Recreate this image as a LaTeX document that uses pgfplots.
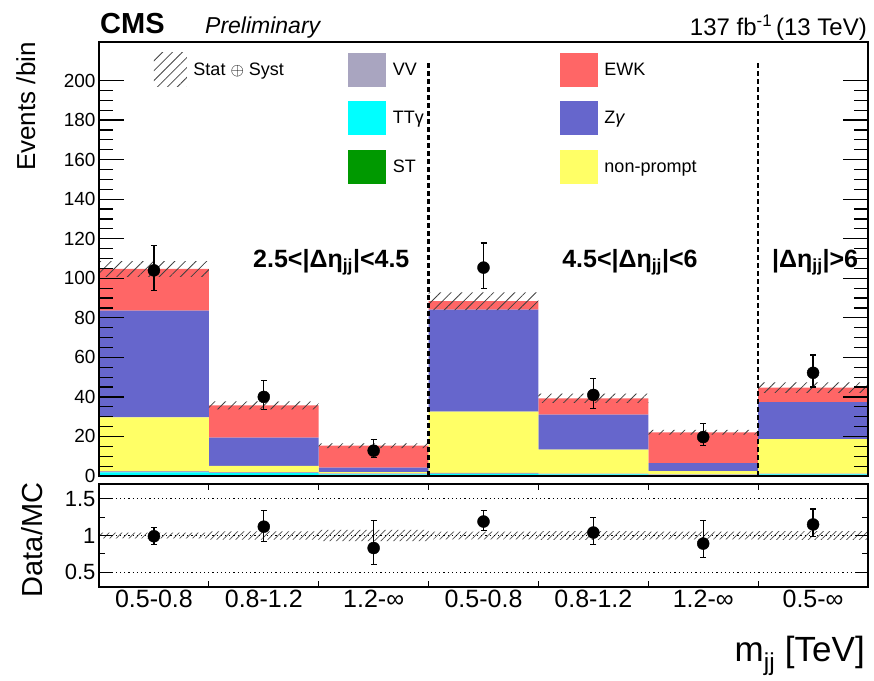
\documentclass[border=0pt]{standalone}
\usepackage{fontspec}
\setmainfont{Liberation Sans}
\usepackage{pgfplots}
\pgfplotsset{compat=1.18}
\usetikzlibrary{patterns.meta}

\definecolor{vvcol}{RGB}{169,165,192}
\definecolor{ttgcol}{RGB}{0,255,255}
\definecolor{stcol}{RGB}{0,153,0}
\definecolor{ewkcol}{RGB}{255,102,102}
\definecolor{zgcol}{RGB}{102,102,204}
\definecolor{npcol}{RGB}{255,255,102}

\newcommand{\fs}[1]{\fontsize{#1}{#1}\selectfont}

\pgfplotsset{
  common/.style={
    scale only axis, width=769pt, xmin=0, xmax=7,
    tick align=inside,
    every tick/.style={black, line width=1.2pt},
    axis line style={line width=1.6pt},
    /pgf/number format/assume math mode=true,
  },
  databars/.style={
    only marks, mark=*, black,
    error bars/.cd, y dir=both, y explicit, error mark=-,
    error bar style={line width=1.2pt, black},
    error mark options={rotate=90, line width=1.2pt, mark size=3pt, black},
    /pgfplots/.cd,
  },
}

\begin{document}
\begin{tikzpicture}
\path[use as bounding box] (0,0) rectangle (874pt,680pt);

% ---------- upper pad: stacked histograms ----------
\begin{axis}[common, at={(99pt,204pt)}, anchor=south west, height=434pt,
  ymin=0, ymax=219.5, ybar stacked, bar width=1, axis on top,
  ytick=\empty, xtick=\empty, minor xtick={0,0.2,...,7}, minor tick length=5pt,
  xtick pos=both]
\addplot[fill=stcol, draw=none] coordinates {(0.5,0.3)(1.5,0.3)(2.5,0.2)(3.5,0.3)(4.5,0.2)(5.5,0.1)(6.5,0.2)};
\addplot[fill=ttgcol, draw=none] coordinates {(0.5,1.5)(1.5,1.2)(2.5,0.6)(3.5,0.8)(4.5,0.6)(5.5,0.4)(6.5,0.6)};
\addplot[fill=vvcol, draw=none] coordinates {(0.5,0.7)(1.5,0.5)(2.5,0.5)(3.5,0.5)(4.5,0.4)(5.5,0.3)(6.5,0.4)};
\addplot[fill=npcol, draw=none] coordinates {(0.5,27.2)(1.5,3.1)(2.5,0.7)(3.5,31.0)(4.5,12.1)(5.5,1.7)(6.5,17.5)};
\addplot[fill=zgcol, draw=none] coordinates {(0.5,54.0)(1.5,14.3)(2.5,2.2)(3.5,51.6)(4.5,17.8)(5.5,4.0)(6.5,18.7)};
\addplot[fill=ewkcol, draw=none] coordinates {(0.5,21.0)(1.5,16.3)(2.5,11.1)(3.5,4.2)(4.5,8.2)(5.5,15.6)(6.5,7.3)};
\end{axis}

% ---------- upper pad: Stat+Syst band (lower edge + width) ----------
\begin{axis}[common, at={(99pt,204pt)}, anchor=south west, height=434pt,
  ymin=0, ymax=219.5, ybar stacked, bar width=1, hide axis]
\addplot[draw=none, fill=none] coordinates {(0.5,100.7)(1.5,33.7)(2.5,14.1)(3.5,83.9)(4.5,37.0)(5.5,20.9)(6.5,42.1)};
\addplot[draw=none, pattern={Lines[angle=45,distance=7.5pt,line width=0.8pt]}, pattern color=black!75] coordinates {(0.5,8.0)(1.5,4.0)(2.5,2.4)(3.5,9.0)(4.5,4.6)(5.5,2.4)(6.5,5.2)};
\end{axis}

% ---------- upper pad: frame, data, legend ----------
\begin{axis}[common, at={(99pt,204pt)}, anchor=south west, height=434pt,
  ymin=0, ymax=219.5, clip=false,
  xtick=\empty, ytick={0,20,...,200}, minor y tick num=3,
  major tick length=25pt, minor tick length=14pt,
  yticklabel style={font=\fs{19}},
  ylabel={Events /bin},
  ylabel style={font=\fs{26}, inner sep=0pt, at={(axis description cs:-0.0832,1)}, anchor=base east},
  legend columns=3, legend cell align=left,
  legend style={at={(axis description cs:0.0715,0.9747)}, anchor=north west,
    draw=none, fill=none, inner sep=0pt, outer sep=0pt, font=\fs{18},
    nodes={inner sep=0pt, anchor=west}, row sep=14.5pt,
    /tikz/every odd column/.append style={column sep=6.5pt}},
]
\addplot[forget plot, black, line width=2.4pt, dash pattern=on 5pt off 3pt] coordinates {(3,0)(3,209)};
\addplot[forget plot, black, line width=2.4pt, dash pattern=on 5pt off 3pt] coordinates {(6,0)(6,209)};

\addplot[forget plot, mark size=6pt, databars] coordinates {
 (0.5,104) += (0,12.5) -= (0,10.3)
 (1.5,40) += (0,8.5) -= (0,6.3)
 (2.5,12.8) += (0,5.7) -= (0,3.5)
 (3.5,105.4) += (0,12.4) -= (0,10.5)
 (4.5,41) += (0,8.3) -= (0,6.7)
 (5.5,19.7) += (0,7) -= (0,4.4)
 (6.5,52.2) += (0,9) -= (0,7.2)
};

\addlegendimage{legend image code/.code={\path[draw=none, fill=none, pattern={Lines[angle=45,distance=7pt,line width=0.8pt]}, pattern color=black!75] (0pt,-17pt) rectangle (33pt,17pt);}}
\addlegendentry{\makebox[155pt][l]{Stat $\oplus$ Syst}}
\addlegendimage{legend image code/.code={\path[draw=none, fill=vvcol] (0pt,-17pt) rectangle (38pt,17pt);}}
\addlegendentry{\makebox[167pt][l]{VV}}
\addlegendimage{legend image code/.code={\path[draw=none, fill=ewkcol] (0pt,-17pt) rectangle (38pt,17pt);}}
\addlegendentry{EWK}
\addlegendimage{legend image code/.code={\path[draw=none, fill=none] (0pt,-17pt) rectangle (33pt,17pt);}}
\addlegendentry{\strut}
\addlegendimage{legend image code/.code={\path[draw=none, fill=ttgcol] (0pt,-17pt) rectangle (38pt,17pt);}}
\addlegendentry{TTγ}
\addlegendimage{legend image code/.code={\path[draw=none, fill=zgcol] (0pt,-17pt) rectangle (38pt,17pt);}}
\addlegendentry{Z\textit{γ}}
\addlegendimage{legend image code/.code={\path[draw=none, fill=none] (0pt,-17pt) rectangle (33pt,17pt);}}
\addlegendentry{\strut}
\addlegendimage{legend image code/.code={\path[draw=none, fill=stcol] (0pt,-17pt) rectangle (38pt,17pt);}}
\addlegendentry{ST}
\addlegendimage{legend image code/.code={\path[draw=none, fill=npcol] (0pt,-17pt) rectangle (38pt,17pt);}}
\addlegendentry{non-prompt}

\node[anchor=base west, inner sep=0pt, font=\bfseries\fs{25}] at (axis cs:1.402,105.3) {2.5<|Δη\textsubscript{jj}|<4.5};
\node[anchor=base west, inner sep=0pt, font=\bfseries\fs{25}] at (axis cs:4.215,105.3) {4.5<|Δη\textsubscript{jj}|<6};
\node[anchor=base west, inner sep=0pt, font=\bfseries\fs{25}] at (axis cs:6.126,105.3) {|Δη\textsubscript{jj}|>6};

\node[anchor=base west, inner sep=0pt, font=\bfseries\fs{29}] at (axis description cs:0.0013,1.0207) {CMS};
\node[anchor=base west, inner sep=0pt, font=\itshape\fs{23}] at (axis description cs:0.1378,1.0207) {Preliminary};
\node[anchor=base east, inner sep=0pt, font=\fs{24}] at (axis description cs:0.9987,1.016) {137 fb\textsuperscript{-1}\,(13 TeV)};
\end{axis}

% ---------- ratio pad: band ----------
\begin{axis}[common, at={(99pt,93pt)}, anchor=south west, height=103pt,
  ymin=0.3, ymax=1.7, ybar stacked, bar width=1, hide axis]
\addplot[draw=none, fill=none] coordinates {(0.5,0.962)(1.5,0.944)(2.5,0.922)(3.5,0.949)(4.5,0.941)(5.5,0.946)(6.5,0.942)};
\addplot[draw=none, pattern={Lines[angle=45,distance=4.5pt,line width=0.7pt]}, pattern color=black!70] coordinates {(0.5,0.076)(1.5,0.112)(2.5,0.156)(3.5,0.102)(4.5,0.118)(5.5,0.108)(6.5,0.116)};
\end{axis}

% ---------- ratio pad ----------
\begin{axis}[common, at={(99pt,93pt)}, anchor=south west, height=103pt,
  ymin=0.3, ymax=1.7,
  ytick={0.5,1,1.5}, yticklabels={0.5,1,1.5}, minor ytick={0.75,1.25},
  major tick length=13pt, minor tick length=6pt,
  xtick={0.5,1.5,2.5,3.5,4.5,5.5,6.5},
  xticklabels={0.5-0.8,0.8-1.2,1.2-∞,0.5-0.8,0.8-1.2,1.2-∞,0.5-∞},
  major x tick style={draw=none},
  minor xtick={1,2,3,4,5,6},
  ymajorgrids, major grid style={black, line width=1.1pt, dash pattern=on 1.2pt off 3pt},
  yticklabel style={font=\fs{22}},
  xticklabel style={font=\fs{25}},
  ylabel={Data/MC},
  ylabel style={font=\fs{29}, inner sep=0pt, at={(axis description cs:-0.0741,0.456)}, anchor=base},
  xlabel={m\textsubscript{jj} [TeV]},
  xlabel style={font=\fs{35}, inner sep=0pt, at={(axis description cs:0.996,-0.725)}, anchor=base east},
]
\addplot[forget plot, mark size=6pt, databars] coordinates {
 (0.5,0.99) += (0,0.12) -= (0,0.11)
 (1.5,1.12) += (0,0.22) -= (0,0.20)
 (2.5,0.83) += (0,0.37) -= (0,0.22)
 (3.5,1.19) += (0,0.15) -= (0,0.12)
 (4.5,1.04) += (0,0.21) -= (0,0.16)
 (5.5,0.89) += (0,0.31) -= (0,0.19)
 (6.5,1.15) += (0,0.21) -= (0,0.16)
};
\end{axis}
\end{tikzpicture}
\end{document}
